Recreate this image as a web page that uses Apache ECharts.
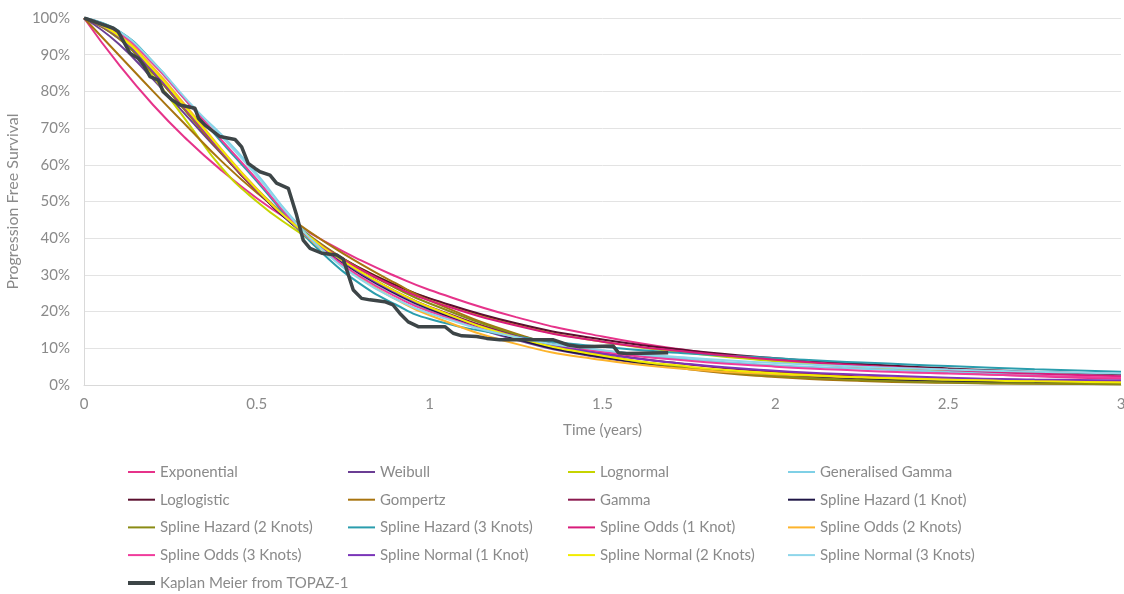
<!DOCTYPE html>
<html>
<head>
<meta charset="utf-8">
<script src="https://cdn.jsdelivr.net/npm/echarts@6/dist/echarts.min.js"></script>
<style>
  html, body { margin: 0; padding: 0; background: #fff; }
  #charts { width: 1124px; height: 594px; }
</style>
</head>
<body>
<div id="charts"></div>
<script>
// time points (years) for the fitted curves
var times = [0, 0.1, 0.2, 0.3, 0.4, 0.5, 0.6, 0.7, 0.8, 0.9, 1, 1.25, 1.5, 1.75, 2, 2.25, 2.5, 2.75, 3];

// fitted survival, %
var exponential   = [100, 87.4, 76.3, 66.7, 58.3, 50.9, 44.5, 38.9, 34.0, 29.7, 25.9, 18.5, 13.2, 9.4, 6.7, 4.8, 3.4, 2.4, 1.7];
var weibull       = [100, 93.0, 83.3, 73.0, 62.8, 53.3, 44.6, 37.0, 30.5, 25.0, 20.4, 12.3, 7.4, 4.5, 2.8, 1.8, 1.2, 0.9, 0.7];
var lognormal     = [100, 95.5, 84.0, 71.5, 59.0, 50.0, 43.0, 37.0, 31.8, 27.3, 23.5, 16.4, 11.8, 8.7, 6.5, 5.0, 3.9, 3.1, 2.5];
var genGamma      = [100, 96.2, 87.5, 77.0, 68.0, 57.5, 45.8, 37.0, 30.0, 24.8, 20.6, 13.6, 9.4, 7.0, 5.4, 4.4, 3.6, 3.0, 2.6];
var loglogistic   = [100, 95.5, 86.0, 74.5, 63.0, 52.8, 44.2, 37.3, 31.8, 27.3, 23.6, 16.8, 12.4, 9.4, 7.3, 5.7, 4.5, 3.6, 2.9];
var gompertz      = [100, 90.0, 80.0, 70.3, 60.8, 52.4, 45.2, 38.8, 33.0, 27.8, 23.0, 14.0, 8.0, 4.3, 2.2, 1.1, 0.6, 0.35, 0.2];
var gamma         = [100, 94.5, 85.0, 74.0, 63.0, 53.0, 44.3, 37.0, 30.8, 25.6, 21.3, 13.6, 8.7, 5.6, 3.6, 2.3, 1.5, 1.0, 0.7];
var splineHaz1    = [100, 95.0, 85.5, 74.5, 63.3, 53.0, 44.0, 36.5, 30.2, 25.0, 20.7, 12.6, 7.6, 4.6, 2.8, 1.7, 1.0, 0.6, 0.4];
var splineHaz2    = [100, 94.5, 85.0, 74.0, 63.0, 53.0, 44.5, 37.5, 31.5, 26.5, 22.2, 13.8, 8.2, 4.6, 2.5, 1.3, 0.7, 0.4, 0.2];
var splineHaz3    = [100, 96.5, 88.0, 77.0, 66.0, 55.5, 44.5, 35.0, 27.5, 22.0, 18.0, 13.2, 10.4, 8.6, 7.3, 6.1, 5.2, 4.3, 3.6];
var splineOdds1   = [100, 95.0, 85.5, 74.5, 63.3, 53.0, 44.3, 37.2, 31.5, 26.8, 23.0, 16.2, 11.8, 9.0, 6.9, 5.3, 4.1, 3.1, 2.4];
var splineOdds2   = [100, 95.5, 86.5, 75.5, 64.0, 53.5, 44.3, 36.0, 29.0, 23.5, 19.0, 11.2, 6.8, 4.3, 2.9, 2.1, 1.6, 1.3, 1.1];
var splineOdds3   = [100, 96.0, 87.5, 77.0, 66.5, 56.0, 45.0, 36.2, 29.5, 24.2, 20.0, 13.0, 9.0, 6.6, 5.0, 3.9, 3.1, 2.5, 2.0];
var splineNorm1   = [100, 95.0, 85.5, 74.8, 63.5, 53.2, 44.3, 36.8, 30.5, 25.3, 21.0, 13.2, 8.5, 5.7, 3.9, 2.8, 2.0, 1.5, 1.2];
var splineNorm2   = [100, 95.2, 86.0, 75.0, 63.8, 53.3, 44.4, 37.0, 30.8, 25.6, 21.2, 13.0, 8.0, 5.0, 3.2, 2.1, 1.4, 1.0, 0.7];
var splineNorm3   = [100, 96.4, 88.0, 77.5, 67.5, 57.0, 45.5, 36.0, 28.8, 23.5, 19.5, 13.0, 9.5, 7.4, 6.0, 5.0, 4.2, 3.6, 3.1];

var kmTimes = [0, 0.085, 0.099, 0.133, 0.157, 0.172, 0.191, 0.215, 0.229, 0.254, 0.278, 0.321, 0.331, 0.350, 0.393,
               0.437, 0.456, 0.475, 0.495, 0.509, 0.538, 0.557, 0.591, 0.615, 0.634, 0.654, 0.688, 0.731, 0.750, 0.779, 0.803,
               0.827, 0.870, 0.894, 0.914, 0.938, 0.967, 1.044, 1.068, 1.093, 1.136, 1.165, 1.203, 1.358, 1.401, 1.435,
               1.531, 1.546, 1.570, 1.690];
var kmSurv  = [100, 97.2, 96.3, 90.4, 89.0, 87.2, 84.0, 83.1, 79.9, 77.7, 76.3, 75.4, 72.7, 70.8, 67.7,
               66.9, 64.9, 60.4, 59.0, 58.1, 57.2, 55.0, 53.6, 46.3, 39.5, 37.2, 35.9, 35.4, 34.3, 25.9, 23.6,
               23.2, 22.7, 21.8, 19.5, 17.2, 15.9, 15.9, 14.1, 13.4, 13.2, 12.7, 12.3, 12.3, 10.9, 10.4,
               10.6, 8.8, 8.6, 8.8];

var names = ['Exponential', 'Weibull', 'Lognormal', 'Generalised Gamma',
             'Loglogistic', 'Gompertz', 'Gamma', 'Spline Hazard (1 Knot)',
             'Spline Hazard (2 Knots)', 'Spline Hazard (3 Knots)', 'Spline Odds (1 Knot)', 'Spline Odds (2 Knots)',
             'Spline Odds (3 Knots)', 'Spline Normal (1 Knot)', 'Spline Normal (2 Knots)', 'Spline Normal (3 Knots)'];
var values = [exponential, weibull, lognormal, genGamma, loglogistic, gompertz, gamma, splineHaz1,
              splineHaz2, splineHaz3, splineOdds1, splineOdds2, splineOdds3, splineNorm1, splineNorm2, splineNorm3];
var colors = ['#e6338a', '#6b3e94', '#c6d400', '#7fd0e6', '#5b0f2e', '#a8740f', '#8b1a4f', '#1f1646',
              '#8a8b14', '#2a9dad', '#d81b7a', '#fdb42c', '#f03c9c', '#7a35b8', '#f2ec00', '#8ed6ea'];
var kmName = 'Kaplan Meier from TOPAZ-1';

var textColor = '#8a8a8a';
var font = 'Lato, "Open Sans", sans-serif';

function pairs(xs, ys) {
    var out = [];
    for (var i = 0; i < xs.length; i++) {
        out.push([xs[i], ys[i] / 100]);
    }
    return out;
}

function buildSeries() {
    var list = [];
    for (var i = 0; i < names.length; i++) {
        list.push({
            name: names[i],
            type: 'line',
            smooth: true,
            symbol: 'none',
            data: pairs(times, values[i]),
            lineStyle: { width: 2, color: colors[i] },
            itemStyle: { color: colors[i] },
            z: 2
        });
    }
    list.push({
        name: kmName,
        type: 'line',
        symbol: 'none',
        data: pairs(kmTimes, kmSurv),
        lineStyle: { width: 3.5, color: '#3d4547', join: 'round' },
        itemStyle: { color: '#3d4547' },
        z: 5
    });
    return list;
}

function legendBox(items, left, top, h) {
    return {
        data: items,
        orient: 'vertical',
        left: left,
        top: top,
        padding: 0,
        icon: 'rect',
        itemWidth: 27,
        itemHeight: h,
        itemGap: 11.7,
        selectedMode: false,
        textStyle: { color: textColor, fontSize: 15, fontFamily: font, lineHeight: 16 }
    };
}

// legend laid out as 4 columns, KM on its own row below
function buildLegends() {
    var lefts = [128, 348, 568, 788];
    var out = [];
    for (var c = 0; c < 4; c++) {
        var items = [];
        for (var r = 0; r < 4; r++) {
            items.push(names[r * 4 + c]);
        }
        out.push(legendBox(items, lefts[c], 464, 2));
    }
    out.push(legendBox([kmName], lefts[0], 575, 4));
    return out;
}

var chart = echarts.init(document.getElementById('charts'));
chart.setOption({
    backgroundColor: '#fff',
    animation: false,
    grid: { left: 84, top: 18, width: 1037, height: 367, outerBoundsMode: 'none' },
    legend: buildLegends(),
    xAxis: {
        type: 'value',
        min: 0, max: 3, interval: 0.5,
        name: 'Time (years)',
        nameLocation: 'middle',
        nameGap: 38,
        nameTextStyle: { color: textColor, fontSize: 15, fontFamily: font },
        axisLine: { lineStyle: { color: '#d9d9d9', width: 1 } },
        axisTick: { show: false },
        splitLine: { show: false },
        axisLabel: { color: textColor, fontSize: 15, fontFamily: font, margin: 12 }
    },
    yAxis: {
        type: 'value',
        min: 0, max: 1, interval: 0.1,
        name: 'Progression Free Survival',
        nameLocation: 'middle',
        nameGap: 62,
        nameTextStyle: { color: textColor, fontSize: 16, fontFamily: font },
        axisLine: { show: true, lineStyle: { color: '#d9d9d9', width: 1 } },
        axisTick: { show: false },
        splitLine: { lineStyle: { color: '#e3e3e3', width: 1 } },
        axisLabel: {
            color: textColor, fontSize: 15, fontFamily: font, margin: 14,
            formatter: function (v) { return Math.round(v * 100) + '%'; }
        }
    },
    series: buildSeries()
});
</script>
</body>
</html>
